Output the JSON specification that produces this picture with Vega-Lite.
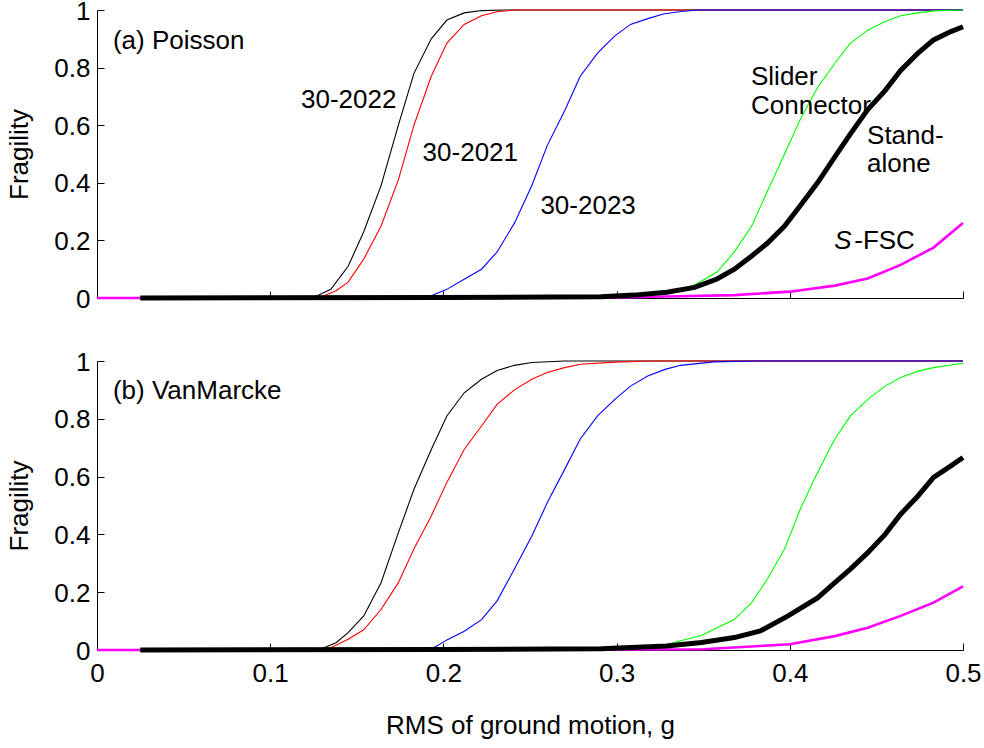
{
  "$schema": "https://vega.github.io/schema/vega-lite/v6.json",
  "background": "white",
  "padding": {"left": 6, "top": -2, "right": 20, "bottom": 5},
  "spacing": 37,
  "config": {
    "view": {"stroke": null},
    "font": "Liberation Sans",
    "axis": {"domainColor": "black", "tickColor": "black", "labelColor": "black", "titleColor": "black", "labelFont": "Liberation Sans", "titleFont": "Liberation Sans", "labelFontSize": 26, "titleFontSize": 26, "titleFontWeight": "normal", "grid": false, "tickSize": -7, "domainWidth": 1, "tickWidth": 1, "labelFlush": false},
    "text": {"font": "Liberation Sans", "fontSize": 26, "color": "black"}
  },
  "datasets": {
    "curves": [
      {"p":"a","s":"S-FSC","x":0,"y":0},{"p":"a","s":"S-FSC","x":0.2,"y":0},{"p":"a","s":"S-FSC","x":0.3,"y":0.002},{"p":"a","s":"S-FSC","x":0.329,"y":0.005},{"p":"a","s":"S-FSC","x":0.368,"y":0.01},{"p":"a","s":"S-FSC","x":0.4,"y":0.022},{"p":"a","s":"S-FSC","x":0.426,"y":0.043},{"p":"a","s":"S-FSC","x":0.445,"y":0.068},{"p":"a","s":"S-FSC","x":0.464,"y":0.115},{"p":"a","s":"S-FSC","x":0.483,"y":0.175},{"p":"a","s":"S-FSC","x":0.5,"y":0.26},

      {"p":"a","s":"30-2022","x":0.025,"y":0},{"p":"a","s":"30-2022","x":0.12,"y":0},{"p":"a","s":"30-2022","x":0.125,"y":0.002},{"p":"a","s":"30-2022","x":0.135,"y":0.03},{"p":"a","s":"30-2022","x":0.145,"y":0.11},{"p":"a","s":"30-2022","x":0.154,"y":0.23},{"p":"a","s":"30-2022","x":0.164,"y":0.39},{"p":"a","s":"30-2022","x":0.174,"y":0.6},{"p":"a","s":"30-2022","x":0.183,"y":0.78},{"p":"a","s":"30-2022","x":0.193,"y":0.9},{"p":"a","s":"30-2022","x":0.202,"y":0.965},{"p":"a","s":"30-2022","x":0.212,"y":0.99},{"p":"a","s":"30-2022","x":0.222,"y":0.998},{"p":"a","s":"30-2022","x":0.235,"y":1},{"p":"a","s":"30-2022","x":0.5,"y":1},

      {"p":"a","s":"30-2021","x":0.025,"y":0},{"p":"a","s":"30-2021","x":0.125,"y":0},{"p":"a","s":"30-2021","x":0.13,"y":0.005},{"p":"a","s":"30-2021","x":0.138,"y":0.025},{"p":"a","s":"30-2021","x":0.145,"y":0.055},{"p":"a","s":"30-2021","x":0.154,"y":0.135},{"p":"a","s":"30-2021","x":0.164,"y":0.25},{"p":"a","s":"30-2021","x":0.174,"y":0.41},{"p":"a","s":"30-2021","x":0.183,"y":0.6},{"p":"a","s":"30-2021","x":0.193,"y":0.77},{"p":"a","s":"30-2021","x":0.202,"y":0.885},{"p":"a","s":"30-2021","x":0.212,"y":0.95},{"p":"a","s":"30-2021","x":0.222,"y":0.98},{"p":"a","s":"30-2021","x":0.231,"y":0.994},{"p":"a","s":"30-2021","x":0.241,"y":1},{"p":"a","s":"30-2021","x":0.5,"y":1},

      {"p":"a","s":"30-2023","x":0.025,"y":0},{"p":"a","s":"30-2023","x":0.185,"y":0},{"p":"a","s":"30-2023","x":0.192,"y":0.005},{"p":"a","s":"30-2023","x":0.202,"y":0.03},{"p":"a","s":"30-2023","x":0.212,"y":0.065},{"p":"a","s":"30-2023","x":0.222,"y":0.1},{"p":"a","s":"30-2023","x":0.231,"y":0.16},{"p":"a","s":"30-2023","x":0.241,"y":0.26},{"p":"a","s":"30-2023","x":0.251,"y":0.39},{"p":"a","s":"30-2023","x":0.26,"y":0.53},{"p":"a","s":"30-2023","x":0.27,"y":0.65},{"p":"a","s":"30-2023","x":0.279,"y":0.77},{"p":"a","s":"30-2023","x":0.289,"y":0.85},{"p":"a","s":"30-2023","x":0.299,"y":0.91},{"p":"a","s":"30-2023","x":0.308,"y":0.95},{"p":"a","s":"30-2023","x":0.318,"y":0.97},{"p":"a","s":"30-2023","x":0.327,"y":0.986},{"p":"a","s":"30-2023","x":0.337,"y":0.995},{"p":"a","s":"30-2023","x":0.347,"y":1},{"p":"a","s":"30-2023","x":0.5,"y":1},

      {"p":"a","s":"Slider Connector","x":0.025,"y":0},{"p":"a","s":"Slider Connector","x":0.3,"y":0.003},{"p":"a","s":"Slider Connector","x":0.32,"y":0.01},{"p":"a","s":"Slider Connector","x":0.335,"y":0.025},{"p":"a","s":"Slider Connector","x":0.345,"y":0.045},{"p":"a","s":"Slider Connector","x":0.358,"y":0.09},{"p":"a","s":"Slider Connector","x":0.368,"y":0.16},{"p":"a","s":"Slider Connector","x":0.378,"y":0.25},{"p":"a","s":"Slider Connector","x":0.387,"y":0.37},{"p":"a","s":"Slider Connector","x":0.397,"y":0.5},{"p":"a","s":"Slider Connector","x":0.406,"y":0.62},{"p":"a","s":"Slider Connector","x":0.416,"y":0.73},{"p":"a","s":"Slider Connector","x":0.426,"y":0.815},{"p":"a","s":"Slider Connector","x":0.435,"y":0.885},{"p":"a","s":"Slider Connector","x":0.445,"y":0.93},{"p":"a","s":"Slider Connector","x":0.455,"y":0.96},{"p":"a","s":"Slider Connector","x":0.464,"y":0.98},{"p":"a","s":"Slider Connector","x":0.474,"y":0.99},{"p":"a","s":"Slider Connector","x":0.483,"y":0.997},{"p":"a","s":"Slider Connector","x":0.5,"y":1},

      {"p":"a","s":"Stand-alone","x":0.025,"y":0},{"p":"a","s":"Stand-alone","x":0.2,"y":0.002},{"p":"a","s":"Stand-alone","x":0.291,"y":0.004},{"p":"a","s":"Stand-alone","x":0.31,"y":0.01},{"p":"a","s":"Stand-alone","x":0.329,"y":0.02},{"p":"a","s":"Stand-alone","x":0.345,"y":0.037},{"p":"a","s":"Stand-alone","x":0.358,"y":0.066},{"p":"a","s":"Stand-alone","x":0.368,"y":0.1},{"p":"a","s":"Stand-alone","x":0.378,"y":0.146},{"p":"a","s":"Stand-alone","x":0.387,"y":0.19},{"p":"a","s":"Stand-alone","x":0.397,"y":0.25},{"p":"a","s":"Stand-alone","x":0.406,"y":0.32},{"p":"a","s":"Stand-alone","x":0.416,"y":0.4},{"p":"a","s":"Stand-alone","x":0.426,"y":0.49},{"p":"a","s":"Stand-alone","x":0.435,"y":0.57},{"p":"a","s":"Stand-alone","x":0.445,"y":0.654},{"p":"a","s":"Stand-alone","x":0.455,"y":0.72},{"p":"a","s":"Stand-alone","x":0.464,"y":0.79},{"p":"a","s":"Stand-alone","x":0.474,"y":0.85},{"p":"a","s":"Stand-alone","x":0.483,"y":0.896},{"p":"a","s":"Stand-alone","x":0.493,"y":0.925},{"p":"a","s":"Stand-alone","x":0.5,"y":0.942},

      {"p":"b","s":"S-FSC","x":0,"y":0},{"p":"b","s":"S-FSC","x":0.2,"y":0},{"p":"b","s":"S-FSC","x":0.35,"y":0.0025},{"p":"b","s":"S-FSC","x":0.4,"y":0.02},{"p":"b","s":"S-FSC","x":0.426,"y":0.048},{"p":"b","s":"S-FSC","x":0.445,"y":0.077},{"p":"b","s":"S-FSC","x":0.464,"y":0.118},{"p":"b","s":"S-FSC","x":0.483,"y":0.164},{"p":"b","s":"S-FSC","x":0.5,"y":0.22},

      {"p":"b","s":"30-2022","x":0.025,"y":0},{"p":"b","s":"30-2022","x":0.125,"y":0},{"p":"b","s":"30-2022","x":0.13,"y":0.005},{"p":"b","s":"30-2022","x":0.138,"y":0.025},{"p":"b","s":"30-2022","x":0.145,"y":0.06},{"p":"b","s":"30-2022","x":0.154,"y":0.118},{"p":"b","s":"30-2022","x":0.164,"y":0.233},{"p":"b","s":"30-2022","x":0.174,"y":0.406},{"p":"b","s":"30-2022","x":0.183,"y":0.556},{"p":"b","s":"30-2022","x":0.193,"y":0.694},{"p":"b","s":"30-2022","x":0.202,"y":0.81},{"p":"b","s":"30-2022","x":0.212,"y":0.89},{"p":"b","s":"30-2022","x":0.222,"y":0.937},{"p":"b","s":"30-2022","x":0.231,"y":0.967},{"p":"b","s":"30-2022","x":0.241,"y":0.985},{"p":"b","s":"30-2022","x":0.251,"y":0.995},{"p":"b","s":"30-2022","x":0.27,"y":1},{"p":"b","s":"30-2022","x":0.5,"y":1},

      {"p":"b","s":"30-2021","x":0.025,"y":0},{"p":"b","s":"30-2021","x":0.128,"y":0},{"p":"b","s":"30-2021","x":0.135,"y":0.008},{"p":"b","s":"30-2021","x":0.145,"y":0.037},{"p":"b","s":"30-2021","x":0.154,"y":0.07},{"p":"b","s":"30-2021","x":0.164,"y":0.14},{"p":"b","s":"30-2021","x":0.174,"y":0.233},{"p":"b","s":"30-2021","x":0.183,"y":0.35},{"p":"b","s":"30-2021","x":0.193,"y":0.464},{"p":"b","s":"30-2021","x":0.202,"y":0.58},{"p":"b","s":"30-2021","x":0.212,"y":0.694},{"p":"b","s":"30-2021","x":0.222,"y":0.775},{"p":"b","s":"30-2021","x":0.231,"y":0.85},{"p":"b","s":"30-2021","x":0.241,"y":0.9},{"p":"b","s":"30-2021","x":0.251,"y":0.937},{"p":"b","s":"30-2021","x":0.26,"y":0.96},{"p":"b","s":"30-2021","x":0.27,"y":0.977},{"p":"b","s":"30-2021","x":0.279,"y":0.989},{"p":"b","s":"30-2021","x":0.299,"y":0.996},{"p":"b","s":"30-2021","x":0.32,"y":1},{"p":"b","s":"30-2021","x":0.5,"y":1},

      {"p":"b","s":"30-2023","x":0.025,"y":0},{"p":"b","s":"30-2023","x":0.188,"y":0},{"p":"b","s":"30-2023","x":0.195,"y":0.01},{"p":"b","s":"30-2023","x":0.202,"y":0.035},{"p":"b","s":"30-2023","x":0.212,"y":0.065},{"p":"b","s":"30-2023","x":0.222,"y":0.105},{"p":"b","s":"30-2023","x":0.231,"y":0.17},{"p":"b","s":"30-2023","x":0.241,"y":0.28},{"p":"b","s":"30-2023","x":0.251,"y":0.394},{"p":"b","s":"30-2023","x":0.26,"y":0.51},{"p":"b","s":"30-2023","x":0.27,"y":0.625},{"p":"b","s":"30-2023","x":0.279,"y":0.73},{"p":"b","s":"30-2023","x":0.289,"y":0.81},{"p":"b","s":"30-2023","x":0.299,"y":0.867},{"p":"b","s":"30-2023","x":0.308,"y":0.913},{"p":"b","s":"30-2023","x":0.318,"y":0.948},{"p":"b","s":"30-2023","x":0.328,"y":0.971},{"p":"b","s":"30-2023","x":0.337,"y":0.985},{"p":"b","s":"30-2023","x":0.356,"y":0.997},{"p":"b","s":"30-2023","x":0.38,"y":1},{"p":"b","s":"30-2023","x":0.5,"y":1},

      {"p":"b","s":"Slider Connector","x":0.025,"y":0},{"p":"b","s":"Slider Connector","x":0.29,"y":0.002},{"p":"b","s":"Slider Connector","x":0.31,"y":0.006},{"p":"b","s":"Slider Connector","x":0.329,"y":0.02},{"p":"b","s":"Slider Connector","x":0.349,"y":0.05},{"p":"b","s":"Slider Connector","x":0.368,"y":0.106},{"p":"b","s":"Slider Connector","x":0.378,"y":0.164},{"p":"b","s":"Slider Connector","x":0.387,"y":0.245},{"p":"b","s":"Slider Connector","x":0.397,"y":0.35},{"p":"b","s":"Slider Connector","x":0.406,"y":0.487},{"p":"b","s":"Slider Connector","x":0.416,"y":0.614},{"p":"b","s":"Slider Connector","x":0.426,"y":0.73},{"p":"b","s":"Slider Connector","x":0.435,"y":0.81},{"p":"b","s":"Slider Connector","x":0.445,"y":0.867},{"p":"b","s":"Slider Connector","x":0.455,"y":0.913},{"p":"b","s":"Slider Connector","x":0.464,"y":0.943},{"p":"b","s":"Slider Connector","x":0.474,"y":0.965},{"p":"b","s":"Slider Connector","x":0.483,"y":0.977},{"p":"b","s":"Slider Connector","x":0.5,"y":0.992},

      {"p":"b","s":"Stand-alone","x":0.025,"y":0},{"p":"b","s":"Stand-alone","x":0.2,"y":0.002},{"p":"b","s":"Stand-alone","x":0.291,"y":0.004},{"p":"b","s":"Stand-alone","x":0.329,"y":0.014},{"p":"b","s":"Stand-alone","x":0.349,"y":0.026},{"p":"b","s":"Stand-alone","x":0.368,"y":0.043},{"p":"b","s":"Stand-alone","x":0.383,"y":0.066},{"p":"b","s":"Stand-alone","x":0.399,"y":0.118},{"p":"b","s":"Stand-alone","x":0.416,"y":0.18},{"p":"b","s":"Stand-alone","x":0.426,"y":0.233},{"p":"b","s":"Stand-alone","x":0.435,"y":0.28},{"p":"b","s":"Stand-alone","x":0.445,"y":0.337},{"p":"b","s":"Stand-alone","x":0.455,"y":0.4},{"p":"b","s":"Stand-alone","x":0.464,"y":0.47},{"p":"b","s":"Stand-alone","x":0.474,"y":0.533},{"p":"b","s":"Stand-alone","x":0.483,"y":0.597},{"p":"b","s":"Stand-alone","x":0.493,"y":0.637},{"p":"b","s":"Stand-alone","x":0.5,"y":0.666}
    ]
  },
  "vconcat": [
    {
      "width": 866,
      "height": 288,
      "layer": [
        {
          "data": {"name": "curves"},
          "transform": [{"filter": "datum.p === 'a'"}],
          "mark": {"type": "line"},
          "encoding": {
            "x": {"field": "x", "type": "quantitative", "scale": {"domain": [0, 0.5], "nice": false}, "axis": {"values": [0, 0.1, 0.2, 0.3, 0.4, 0.5], "labels": false, "title": null}},
            "y": {"field": "y", "type": "quantitative", "scale": {"domain": [0, 1], "nice": false}, "axis": {"values": [0, 0.2, 0.4, 0.6, 0.8, 1], "format": ".1~f", "title": "Fragility", "labelPadding": 14, "titlePadding": 21, "labelOffset": 1}},
            "color": {"field": "s", "type": "nominal", "scale": {"domain": ["S-FSC", "30-2022", "30-2021", "30-2023", "Slider Connector", "Stand-alone"], "range": ["#ff00ff", "#000000", "#ff0000", "#0000ff", "#00ff00", "#000000"]}, "legend": null},
            "strokeWidth": {"field": "s", "type": "nominal", "scale": {"type": "ordinal", "domain": ["S-FSC", "30-2022", "30-2021", "30-2023", "Slider Connector", "Stand-alone"], "range": [2.6, 1.1, 1.1, 1.1, 1.1, 5]}, "legend": null}
          }
        },
        {
          "data": {"values": [
            {"t": "(a) Poisson", "x": 0.0092, "y": 0.893},
            {"t": "30-2022", "x": 0.1178, "y": 0.689},
            {"t": "30-2021", "x": 0.188, "y": 0.505},
            {"t": "30-2023", "x": 0.256, "y": 0.318},
            {"t": "Slider", "x": 0.3776, "y": 0.768},
            {"t": "Connector", "x": 0.3776, "y": 0.665},
            {"t": "Stand-", "x": 0.4446, "y": 0.561},
            {"t": "alone", "x": 0.4446, "y": 0.464},
            {"t": "-FSC", "x": 0.4372, "y": 0.197}
          ]},
          "mark": {"type": "text", "align": "left", "baseline": "middle"},
          "encoding": {
            "x": {"field": "x", "type": "quantitative"},
            "y": {"field": "y", "type": "quantitative"},
            "text": {"field": "t"}
          }
        },
        {
          "data": {"values": [{"t": "S", "x": 0.4257, "y": 0.197}]},
          "mark": {"type": "text", "align": "left", "baseline": "middle", "fontStyle": "italic"},
          "encoding": {
            "x": {"field": "x", "type": "quantitative"},
            "y": {"field": "y", "type": "quantitative"},
            "text": {"field": "t"}
          }
        }
      ]
    },
    {
      "width": 866,
      "height": 289,
      "layer": [
        {
          "data": {"name": "curves"},
          "transform": [{"filter": "datum.p === 'b'"}],
          "mark": {"type": "line"},
          "encoding": {
            "x": {"field": "x", "type": "quantitative", "scale": {"domain": [0, 0.5], "nice": false}, "axis": {"values": [0, 0.1, 0.2, 0.3, 0.4, 0.5], "format": ".1~f", "title": "RMS of ground motion, g", "labelPadding": 17, "titlePadding": 26}},
            "y": {"field": "y", "type": "quantitative", "scale": {"domain": [0, 1], "nice": false}, "axis": {"values": [0, 0.2, 0.4, 0.6, 0.8, 1], "format": ".1~f", "title": "Fragility", "labelPadding": 14, "titlePadding": 21, "labelOffset": 1}},
            "color": {"field": "s", "type": "nominal", "scale": {"domain": ["S-FSC", "30-2022", "30-2021", "30-2023", "Slider Connector", "Stand-alone"], "range": ["#ff00ff", "#000000", "#ff0000", "#0000ff", "#00ff00", "#000000"]}, "legend": null},
            "strokeWidth": {"field": "s", "type": "nominal", "scale": {"type": "ordinal", "domain": ["S-FSC", "30-2022", "30-2021", "30-2023", "Slider Connector", "Stand-alone"], "range": [1.3, 1.1, 1.1, 1.1, 1.1, 5]}, "legend": null}
          }
        },
        {
          "data": {"values": [
            {"t": "(b) VanMarcke", "x": 0.0092, "y": 0.895}
          ]},
          "mark": {"type": "text", "align": "left", "baseline": "middle"},
          "encoding": {
            "x": {"field": "x", "type": "quantitative"},
            "y": {"field": "y", "type": "quantitative"},
            "text": {"field": "t"}
          }
        }
      ]
    }
  ]
}
